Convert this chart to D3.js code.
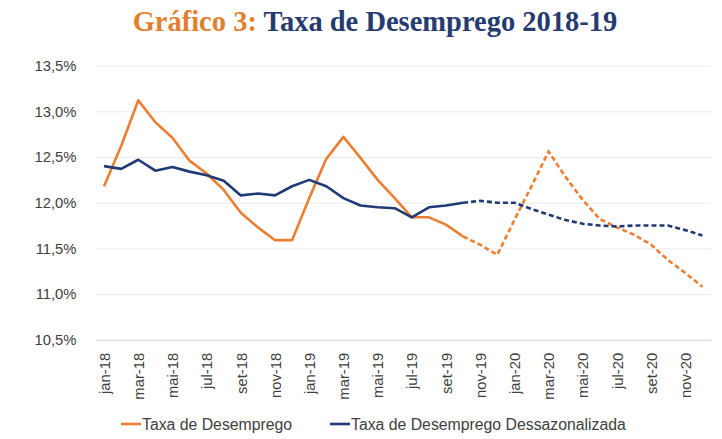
<!DOCTYPE html>
<html>
<head>
<meta charset="utf-8">
<script src="https://cdnjs.cloudflare.com/ajax/libs/d3/7.8.5/d3.min.js"></script>
<style>
  body { margin: 0; background: #fff; }
  .tickText { font-family: "Liberation Sans", Arial, sans-serif; fill: #404040; }
</style>
</head>
<body>
<div id="chart"></div>
<script>
// month labels, jan-18 .. dez-20
var months = ["jan-18","fev-18","mar-18","abr-18","mai-18","jun-18","jul-18","ago-18","set-18","out-18","nov-18","dez-18",
              "jan-19","fev-19","mar-19","abr-19","mai-19","jun-19","jul-19","ago-19","set-19","out-19","nov-19","dez-19",
              "jan-20","fev-20","mar-20","abr-20","mai-20","jun-20","jul-20","ago-20","set-20","out-20","nov-20","dez-20"];

// Taxa de Desemprego (%)
var desemprego = [12.18, 12.62, 13.12, 12.88, 12.71, 12.46, 12.32, 12.14, 11.89, 11.73, 11.59, 11.59,
                  12.05, 12.48, 12.72, 12.49, 12.25, 12.05, 11.84, 11.84, 11.76, 11.63, 11.54, 11.43,
                  11.81, 12.18, 12.56, 12.28, 12.03, 11.82, 11.73, 11.65, 11.54, 11.37, 11.23, 11.08];

// Taxa de Desemprego Dessazonalizada (%)
var dessaz = [12.40, 12.37, 12.47, 12.35, 12.39, 12.34, 12.30, 12.24, 12.08, 12.10, 12.08, 12.18,
              12.25, 12.18, 12.05, 11.97, 11.95, 11.94, 11.84, 11.95, 11.97, 12.00, 12.02, 12.00,
              12.00, 11.93, 11.87, 11.81, 11.77, 11.75, 11.74, 11.75, 11.75, 11.75, 11.70, 11.64];

// last observed month (out-19), after it the lines are dashed projections
var lastObserved = "out-19";

var yTicks = [10.5, 11.0, 11.5, 12.0, 12.5, 13.0, 13.5];
var legendNames = ["Taxa de Desemprego", "Taxa de Desemprego Dessazonalizada"];

var orange = "#ED7D31";
var navy = "#1F3A75";

var svgWidth = 722;
var svgHeight = 439;

var margin = { top: 65.6, right: 11, bottom: 99.2, left: 95.5 };
var chartWidth = svgWidth - margin.left - margin.right;
var chartHeight = svgHeight - margin.top - margin.bottom;

var svg = d3.select("#chart")
    .append("svg")
    .attr("width", svgWidth)
    .attr("height", svgHeight);

// title
var title = svg.append("text")
    .attr("x", 375)
    .attr("y", 31)
    .attr("text-anchor", "middle")
    .style("font-family", "'Liberation Serif', 'DejaVu Serif', serif")
    .style("font-weight", "bold")
    .style("font-size", "28.5px");
title.append("tspan").attr("fill", "#E07F2E").text("Gráfico 3: ");
title.append("tspan").attr("fill", "#263C70").text("Taxa de Desemprego 2018-19");

var chartGroup = svg.append("g")
    .attr("transform", `translate(${margin.left}, ${margin.top})`);

var xScale = d3.scalePoint()
    .domain(months)
    .range([0, chartWidth])
    .padding(0.5);

var yScale = d3.scaleLinear()
    .domain([10.5, 13.5])
    .range([chartHeight, 0]);

// gridlines
chartGroup.append("g")
    .call(d3.axisLeft(yScale).tickValues(yTicks).tickSize(-chartWidth).tickFormat(""))
    .call(g => g.select(".domain").remove())
    .call(g => g.selectAll("line").attr("stroke", "#ebebeb").attr("stroke-width", 1));

// y labels
chartGroup.append("g")
    .attr("transform", "translate(-16, 0)")
    .call(d3.axisLeft(yScale).tickValues(yTicks).tickSize(0)
        .tickFormat(d => d3.format(".1f")(d).replace(".", ",") + "%"))
    .call(g => g.select(".domain").remove())
    .selectAll("text")
    .attr("class", "tickText")
    .style("font-size", "14.8px");

// x labels (every second month)
chartGroup.append("g")
    .attr("transform", `translate(0, ${chartHeight})`)
    .call(d3.axisBottom(xScale).tickValues(months.filter((m, i) => i % 2 == 0)).tickSize(0))
    .call(g => g.select(".domain").attr("stroke", "#d9d9d9"))
    .selectAll("text")
    .attr("class", "tickText")
    .style("font-size", "14.8px")
    .attr("text-anchor", "end")
    .attr("transform", "rotate(-90)")
    .attr("x", -13)
    .attr("y", 0)
    .attr("dy", "0.35em");

// lines: solid until lastObserved, dashed after
var cut = months.indexOf(lastObserved);
var line = d3.line()
    .x(d => xScale(d.month))
    .y(d => yScale(d.value));

function drawSeries(values, color) {
    var pts = values.map((v, i) => ({ month: months[i], value: v }));
    chartGroup.append("path")
        .datum(pts.slice(0, cut + 1))
        .attr("fill", "none")
        .attr("stroke", color)
        .attr("stroke-width", 2.6)
        .attr("stroke-linejoin", "round")
        .attr("d", line);
    chartGroup.append("path")
        .datum(pts.slice(cut))
        .attr("fill", "none")
        .attr("stroke", color)
        .attr("stroke-width", 2.6)
        .attr("stroke-dasharray", "5,3")
        .attr("d", line);
}

drawSeries(desemprego, orange);
drawSeries(dessaz, navy);

// legend
var legendX = [121, 330];
var legendColors = [orange, navy];
var legend = svg.append("g");
legendNames.forEach(function(name, i) {
    legend.append("line")
        .attr("x1", legendX[i]).attr("x2", legendX[i] + 20)
        .attr("y1", 424).attr("y2", 424)
        .attr("stroke", legendColors[i])
        .attr("stroke-width", 2.6);
    legend.append("text")
        .attr("class", "tickText")
        .attr("x", legendX[i] + 21)
        .attr("y", 424)
        .attr("dy", "0.35em")
        .style("font-size", "15.8px")
        .text(name);
});
</script>
</body>
</html>
